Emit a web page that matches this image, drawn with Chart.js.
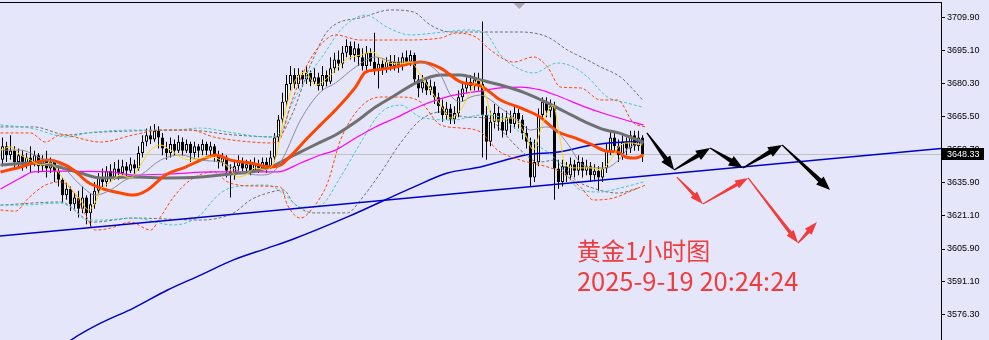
<!DOCTYPE html>
<html lang="zh">
<head>
<meta charset="UTF-8">
<title>黄金1小时图</title>
<style>
  html, body { margin: 0; padding: 0; background: #e6e6fa; }
  #wrap { width: 989px; height: 340px; }
  canvas { display: block; background: #e6e6fa; }
</style>
</head>
<body>
<div id="wrap"><canvas id="myChart" width="989" height="340"></canvas></div>

<script src="https://cdn.jsdelivr.net/npm/chart.js"></script>
<script>
// candles, one per hour (index 0..160)
const opens = [
  3646,3652,3648,3650,3645,3648,3644,3647,3645,3648,
  3643,3646,3642,3645,3641,3637,3630,3633,3626,3629,
  3624,3629,3622,3626,3632,3638,3636,3641,3638,3642,
  3640,3643,3641,3644,3642,3649,3654,3657,3655,3659,
  3656,3651,3649,3653,3650,3654,3650,3653,3649,3652,
  3650,3653,3650,3652,3648,3645,3647,3641,3639,3643,
  3645,3642,3644,3641,3644,3642,3645,3643,3647,3656,
  3664,3672,3680,3684,3680,3684,3682,3685,3681,3683,
  3679,3684,3681,3687,3691,3689,3694,3697,3693,3696,
  3692,3688,3694,3690,3686,3689,3687,3690,3688,3690,
  3688,3692,3690,3693,3682,3678,3681,3677,3679,3674,
  3670,3666,3669,3664,3667,3674,3678,3681,3679,3682,
  3680,3666,3654,3663,3667,3663,3659,3665,3662,3667,
  3664,3658,3654,3638,3645,3666,3672,3668,3670,3642,
  3636,3643,3639,3644,3641,3645,3641,3643,3639,3641,
  3638,3642,3650,3656,3652,3648,3654,3651,3657,3652,
  3656
];
const highs = [
  3656,3654,3657,3652,3651,3650,3649,3652,3650,3649,
  3648,3650,3647,3646,3643,3638,3636,3634,3631,3632,
  3634,3630,3631,3636,3640,3642,3643,3644,3645,3646,
  3646,3645,3647,3646,3652,3657,3660,3661,3662,3661,
  3658,3654,3656,3655,3657,3656,3655,3654,3654,3653,
  3655,3654,3654,3653,3650,3649,3648,3644,3646,3648,
  3647,3646,3646,3647,3646,3647,3647,3650,3658,3666,
  3676,3684,3688,3687,3687,3686,3688,3686,3687,3685,
  3688,3686,3692,3694,3695,3697,3700,3699,3699,3698,
  3696,3697,3696,3703,3692,3691,3692,3693,3693,3692,
  3694,3695,3695,3694,3684,3684,3683,3682,3681,3676,
  3673,3672,3671,3670,3677,3680,3683,3684,3685,3685,
  3708,3670,3668,3671,3670,3667,3668,3668,3670,3669,
  3666,3661,3656,3655,3669,3674,3674,3673,3672,3646,
  3646,3645,3647,3646,3648,3647,3646,3645,3644,3643,
  3645,3653,3659,3659,3655,3657,3656,3659,3659,3659,
  3657
];
const lows = [
  3643,3645,3646,3642,3643,3641,3642,3640,3643,3640,
  3641,3638,3640,3636,3634,3627,3628,3623,3624,3620,
  3622,3617,3616,3624,3630,3633,3634,3636,3637,3637,
  3638,3638,3640,3639,3641,3647,3652,3653,3654,3651,
  3648,3646,3647,3648,3649,3648,3649,3645,3647,3647,
  3648,3648,3647,3645,3642,3643,3638,3629,3637,3641,
  3640,3640,3639,3640,3640,3641,3640,3642,3645,3654,
  3662,3670,3677,3678,3678,3679,3680,3679,3680,3677,
  3677,3679,3680,3685,3686,3687,3692,3691,3690,3688,
  3686,3686,3688,3684,3678,3684,3685,3686,3686,3685,
  3686,3688,3688,3680,3674,3676,3675,3675,3671,3667,
  3663,3664,3662,3662,3665,3672,3676,3677,3677,3677,
  3647,3646,3652,3660,3659,3656,3657,3658,3660,3660,
  3655,3651,3634,3636,3643,3664,3665,3665,3628,3633,
  3634,3636,3637,3638,3639,3638,3639,3636,3637,3632,
  3636,3640,3648,3649,3645,3646,3648,3649,3650,3650,
  3645
];
const closes = [
  3652,3648,3650,3645,3648,3644,3647,3645,3648,3643,
  3646,3642,3645,3641,3637,3630,3633,3626,3629,3624,
  3629,3622,3626,3632,3638,3636,3641,3638,3642,3640,
  3643,3641,3644,3642,3649,3654,3657,3655,3659,3656,
  3651,3649,3653,3650,3654,3650,3653,3649,3652,3650,
  3653,3650,3652,3648,3645,3647,3641,3639,3643,3645,
  3642,3644,3641,3644,3642,3645,3643,3647,3656,3664,
  3672,3680,3684,3680,3684,3682,3685,3681,3683,3679,
  3684,3681,3687,3691,3689,3694,3697,3693,3696,3692,
  3688,3694,3690,3686,3689,3687,3690,3688,3690,3688,
  3692,3690,3693,3682,3678,3681,3677,3679,3674,3670,
  3666,3669,3664,3667,3674,3678,3681,3679,3682,3680,
  3666,3654,3663,3667,3663,3659,3665,3662,3667,3664,
  3658,3654,3638,3645,3666,3672,3668,3670,3642,3636,
  3643,3639,3644,3641,3645,3641,3643,3639,3641,3638,
  3642,3650,3656,3652,3648,3654,3651,3657,3652,3656,
  3648.33
];
const lastPrice = 3648.33;

// right axis labels
const yTicks = [3709.90, 3695.10, 3680.30, 3665.50, 3650.70, 3635.90, 3621.10, 3605.90, 3591.10, 3576.30];

// moving averages, [candle index, price]
const maFast = [[-0.5,3650.3],[2,3651.7],[4.5,3648.1],[7,3645.8],[9.5,3643.6],[12,3644.5],[14.5,3639.1],[17,3633.3],[19.5,3627.9],[21.5,3623.4],[23.25,3627.0],[24.5,3632.4],[27,3636.0],[29.5,3639.1],[32,3637.8],[34.5,3643.6],[37,3650.3],[39.5,3652.6],[42,3650.3],[44.5,3647.2],[47,3645.8],[49.5,3646.7],[52,3647.2],[54.5,3645.8],[57,3641.4],[58.75,3638.2],[60.75,3639.1],[63.25,3642.3],[65.75,3641.4],[68.25,3646.7],[70.75,3668.3],[73.25,3681.8],[75.75,3685.3],[78.25,3679.5],[82,3684.0],[85.75,3690.7],[89.5,3693.0],[92.5,3694.3],[95.75,3689.8],[99.5,3689.0],[102,3689.8],[104.5,3684.0],[107,3677.3],[109.5,3670.5],[112,3664.7],[114.5,3668.3],[116.5,3674.6],[119,3681.8],[120.75,3675.0],[122.75,3663.8],[124.5,3663.8],[126.5,3664.7],[128.25,3663.8],[130.75,3657.1],[132.75,3650.3],[134.5,3659.3],[136.5,3668.3],[137.75,3670.5],[139,3659.3],[140.75,3643.6],[143.25,3642.3],[147,3642.3],[149.5,3641.4],[152,3645.8],[154.5,3652.6],[157,3653.5],[160,3652.6]];
const maThin = [[-0.5,3650.3],[4.5,3650.3],[9.5,3646.7],[14.5,3643.6],[19.5,3634.6],[23.25,3630.1],[27,3632.4],[30.75,3636.9],[34.5,3639.1],[39.5,3645.8],[44.5,3648.1],[49.5,3645.8],[54.5,3644.9],[59.5,3640.5],[64.5,3639.1],[68.25,3641.4],[70.25,3647.2],[74.5,3663.8],[79.5,3676.4],[83.25,3680.4],[88.25,3687.6],[93.25,3692.1],[98.25,3689.8],[103.25,3689.8],[109.5,3684.0],[112,3675.0],[114.5,3671.9],[117,3674.1],[119.5,3675.0],[122,3672.8],[124.5,3669.2],[127,3666.0],[129.5,3662.5],[132,3659.3],[135.75,3660.7],[138.25,3659.3],[141.5,3652.6],[144.5,3644.5],[147.5,3642.3],[150.75,3642.3],[154,3645.8],[156.5,3651.2],[160.25,3653.5]];
const maOrange = [[-0.5,3640.5],[4.5,3642.7],[7.75,3644.5],[11.25,3645.8],[14.5,3644.5],[17.75,3641.4],[21.25,3636.0],[24.5,3633.3],[29.5,3631.0],[32.75,3630.1],[36.25,3632.4],[40.75,3639.1],[45.75,3642.7],[50.75,3646.7],[53.25,3648.1],[57,3645.8],[62,3644.5],[67,3642.7],[69.5,3643.6],[72.75,3649.0],[76.25,3655.7],[79.5,3661.6],[83.25,3668.3],[88.25,3678.6],[90.75,3685.3],[93.25,3686.2],[98.25,3687.6],[104.5,3689.8],[109.5,3687.1],[114.5,3680.9],[119.5,3679.1],[124.5,3672.8],[129.5,3669.2],[134,3665.6],[139,3658.4],[143.25,3655.7],[147.5,3652.6],[150.75,3649.9],[154,3649.4],[155.75,3647.2],[158.25,3646.7],[160.25,3648.1]];
const maGray = [[-0.5,3643.6],[7,3644.5],[12,3643.6],[19.5,3640.0],[24.5,3637.8],[32.75,3638.2],[41.25,3637.8],[49.5,3638.2],[57,3639.6],[62,3640.5],[67,3642.7],[72,3647.2],[77,3651.7],[79.5,3653.9],[83.25,3657.1],[88.25,3662.9],[93.25,3669.6],[98.25,3675.0],[103.25,3680.4],[109.5,3684.0],[114.5,3684.0],[119.5,3681.8],[124.5,3679.5],[130.75,3675.9],[135.75,3671.9],[140.75,3667.4],[145.75,3662.9],[150.75,3659.3],[154,3658.0],[157.5,3655.7],[160.25,3653.9]];
const maMagenta = [[-0.5,3632.8],[4.5,3637.8],[7.75,3640.5],[14.5,3640.9],[27,3640.5],[32.75,3639.1],[42,3639.6],[52.75,3640.5],[60.25,3640.5],[68.75,3640.5],[74.5,3644.5],[79.5,3648.1],[83.25,3650.3],[88.25,3655.7],[93.25,3660.7],[98.25,3664.7],[104.5,3670.1],[112,3674.6],[119.5,3676.8],[124.5,3678.2],[129.5,3678.6],[134.5,3677.3],[138.25,3675.0],[145.75,3669.6],[150.75,3666.5],[155.75,3663.8],[160.25,3661.6]];
const maBlue = [[12,3558.3],[17.5,3565.5],[24.5,3572.6],[32.75,3579.4],[41.25,3587.5],[49.5,3594.2],[57.75,3601.0],[66.25,3606.3],[72.75,3610.4],[86.25,3620.3],[102.75,3633.7],[111.25,3640.0],[119.5,3642.7],[130.75,3648.1],[139,3649.4],[147.5,3652.6],[155.75,3653.9],[160.25,3654.0]];

// bollinger bands
const bbOrangeUp = [[-0.5,3658.0],[7,3658.0],[10.75,3653.9],[14.5,3657.1],[24.5,3653.9],[32.75,3657.1],[39.5,3659.3],[47,3659.3],[52.75,3656.2],[59.5,3654.4],[67,3653.5],[69.5,3655.7],[72,3670.5],[75.75,3687.1],[79.5,3697.5],[83.25,3702.0],[89.5,3699.7],[99.5,3699.7],[109.5,3700.6],[113.25,3702.8],[118.25,3701.1],[122,3695.2],[127.75,3689.8],[132.75,3692.1],[136.25,3687.6],[139.5,3678.6],[144.5,3678.2],[149.5,3672.8],[153.75,3672.8],[157.75,3662.5],[160.75,3660.7]];
const bbOrangeLow = [[-0.5,3623.4],[3.25,3622.9],[6.5,3628.8],[10.75,3634.6],[14.5,3636.0],[18.25,3630.1],[20.75,3621.2],[23.25,3614.4],[27,3615.3],[32,3618.0],[37,3614.4],[39.5,3620.3],[42.75,3629.2],[47,3636.9],[52.75,3640.5],[56.25,3636.0],[62,3634.2],[69.5,3633.7],[71.25,3625.6],[74.5,3619.8],[77.75,3624.7],[81.25,3635.5],[84.5,3654.8],[89.5,3669.6],[94.5,3674.1],[99.5,3674.1],[104.5,3671.9],[109.5,3661.6],[114.5,3660.2],[119.5,3658.4],[123.75,3650.3],[129.5,3645.8],[134.5,3643.6],[139.5,3640.5],[144.5,3633.7],[147.75,3627.9],[152.75,3628.8],[157.75,3632.4],[160.75,3634.6]];
const bbCyanUp = [[-0.5,3661.6],[7,3660.2],[16.25,3656.2],[21.25,3658.0],[32.75,3659.3],[42.75,3659.3],[49.5,3660.2],[57.75,3658.0],[66.25,3656.2],[69.5,3658.0],[72,3669.6],[76.25,3683.1],[80.25,3693.0],[84.5,3704.2],[90.75,3710.9],[96.5,3705.1],[102,3702.0],[110.25,3703.3],[116.25,3704.2],[120.75,3702.8],[124.5,3693.0],[128.25,3687.6],[132.75,3684.9],[138.75,3689.4],[142.75,3687.6],[146.25,3683.1],[151.25,3674.1],[156.25,3671.4],[160,3669.6]];
const bbCyanLow = [[-0.5,3625.6],[4.5,3625.6],[14.5,3626.5],[17,3624.7],[21.25,3618.9],[24.5,3618.9],[32.75,3619.8],[42.75,3616.7],[49.5,3621.2],[52,3626.5],[54.5,3631.0],[57.75,3633.7],[66.25,3634.6],[71.25,3629.2],[74.5,3624.7],[79.5,3625.6],[84.5,3638.2],[89.5,3653.5],[94.5,3667.0],[99.5,3670.5],[104.5,3665.1],[112.75,3663.8],[119.5,3666.0],[124.5,3665.1],[127.75,3660.7],[132.75,3653.5],[137.75,3647.2],[142,3636.9],[144.5,3632.4],[149.5,3631.5],[154.5,3633.3],[160.25,3636.0]];
const bbGrayUp = [[-0.5,3660.7],[7.75,3660.7],[16.25,3657.1],[21.25,3658.0],[32.75,3658.9],[46.25,3659.3],[57.75,3657.1],[68.75,3656.2],[72,3664.7],[77,3688.5],[81.5,3704.2],[90.25,3710.0],[97,3713.2],[102.75,3712.3],[107,3706.4],[112,3703.3],[119.5,3703.3],[129.5,3703.3],[136.25,3701.1],[141.25,3695.2],[146.25,3690.7],[149.5,3687.6],[154.5,3683.1],[157.75,3677.3],[160,3672.8]];
const bbGrayLow = [[-0.5,3625.6],[14.5,3627.0],[22.75,3618.0],[32.75,3619.8],[49.5,3618.9],[57.75,3622.1],[62,3627.9],[66.25,3631.0],[70.25,3632.4],[72.75,3626.6],[77.75,3622.1],[86.25,3622.1],[89.5,3627.9],[94.5,3640.0],[99.5,3653.5],[104.5,3663.8],[109.5,3667.4],[116.25,3665.1],[121.25,3664.7],[125.75,3657.1],[129.5,3650.3],[134,3644.9],[138.25,3645.8],[143.25,3636.9],[147.5,3633.3],[154,3631.0],[159,3633.3]];

// support trend line and current price line
const trendLine = [[-0.625,3611.7],[234.625,3651.0]];
const priceLine = [[-0.625,lastPrice],[234.625,lastPrice]];

// forecast arrows (index, price)
const blackPath = [[161.1,3658.0],[167.9,3641.4],[176.9,3651.2],[185.1,3642.3],[194.9,3652.6],[206.9,3632.4]];
const redPath = [[168.6,3638.2],[175.1,3626.1],[186.4,3637.8],[198.9,3608.6],[203.6,3618.0]];
const shiftIdx = 129.2;

const titleText = '黄金1小时图';
const timeText = '2025-9-19 20:24:24';
const textIdx = 143.6;
const textPrices = [3605.0, 3591.5];

function lineSet(pts, color, width, dash, order) {
    return {
        type: 'line',
        data: pts.map(p => ({ x: p[0], y: p[1] })),
        borderColor: color,
        borderWidth: width,
        borderDash: dash || [],
        pointRadius: 0,
        cubicInterpolationMode: 'monotone',
        fill: false,
        order: order
    };
}

function drawArrow(ctx, x1, y1, x2, y2, w0, w1, headLen, headW) {
    const dx = x2 - x1, dy = y2 - y1;
    const len = Math.hypot(dx, dy);
    const ux = dx / len, uy = dy / len;
    const nx = -uy, ny = ux;
    const bx = x2 - ux * headLen, by = y2 - uy * headLen;
    ctx.beginPath();
    ctx.moveTo(x1 + nx * w0 / 2, y1 + ny * w0 / 2);
    ctx.lineTo(bx + nx * w1 / 2, by + ny * w1 / 2);
    ctx.lineTo(bx + nx * headW / 2, by + ny * headW / 2);
    ctx.lineTo(x2, y2);
    ctx.lineTo(bx - nx * headW / 2, by - ny * headW / 2);
    ctx.lineTo(bx - nx * w1 / 2, by - ny * w1 / 2);
    ctx.lineTo(x1 - nx * w0 / 2, y1 - ny * w0 / 2);
    ctx.closePath();
    ctx.fill();
}

const overlay = {
    id: 'overlay',
    afterDatasetsDraw(chart) {
        const ctx = chart.ctx;
        const xs = chart.scales.x, ys = chart.scales.y;
        const area = chart.chartArea;
        ctx.save();

        // frame top line
        ctx.strokeStyle = '#000';
        ctx.lineWidth = 1;
        ctx.beginPath();
        ctx.moveTo(0, area.top - 0.5);
        ctx.lineTo(area.right + 1, area.top - 0.5);
        ctx.stroke();

        // shift marker
        const sx = xs.getPixelForValue(shiftIdx);
        ctx.fillStyle = '#a9a9b4';
        ctx.beginPath();
        ctx.moveTo(sx - 6, area.top);
        ctx.lineTo(sx + 6, area.top);
        ctx.lineTo(sx, area.top + 6);
        ctx.closePath();
        ctx.fill();

        // arrows
        ctx.fillStyle = '#000';
        for (let i = 1; i < blackPath.length; i++) {
            drawArrow(ctx,
                xs.getPixelForValue(blackPath[i - 1][0]), ys.getPixelForValue(blackPath[i - 1][1]),
                xs.getPixelForValue(blackPath[i][0]), ys.getPixelForValue(blackPath[i][1]),
                1.2, 4.5, 14, 11);
        }
        ctx.fillStyle = '#f23c3c';
        for (let i = 1; i < redPath.length; i++) {
            drawArrow(ctx,
                xs.getPixelForValue(redPath[i - 1][0]), ys.getPixelForValue(redPath[i - 1][1]),
                xs.getPixelForValue(redPath[i][0]), ys.getPixelForValue(redPath[i][1]),
                1.2, 3.5, 13, 9);
        }

        // annotation text
        ctx.fillStyle = '#f03c3c';
        ctx.textBaseline = 'middle';
        ctx.textAlign = 'left';
        const tx = xs.getPixelForValue(textIdx);
        ctx.font = '24px "Noto Sans CJK SC"';
        ctx.fillText(titleText, tx, ys.getPixelForValue(textPrices[0]));
        ctx.font = '25.5px "Noto Sans CJK SC"';
        ctx.fillText(timeText, tx, ys.getPixelForValue(textPrices[1]));

        // current price box
        const py = ys.getPixelForValue(lastPrice);
        ctx.fillStyle = '#000';
        ctx.fillRect(area.right + 1, Math.round(py) - 6, 42, 12);
        ctx.fillStyle = '#fff';
        ctx.font = '9px "Liberation Sans"';
        ctx.fillText(lastPrice.toFixed(2), area.right + 6, py);
        ctx.restore();
    }
};

const datasets = [
    lineSet(priceLine, '#c0c0c0', 1, [], 40),
    {
        type: 'bar',
        data: highs.map((h, i) => ({ x: i, y: [lows[i], h] })),
        backgroundColor: '#000',
        barThickness: 1,
        grouped: false,
        inflateAmount: 0,
        borderWidth: 0,
        order: 30
    },
    {
        type: 'bar',
        data: opens.map((o, i) => ({ x: i, y: [o, closes[i]] })),
        backgroundColor: c => closes[c.dataIndex] >= opens[c.dataIndex] ? '#ffffff' : '#000000',
        borderColor: '#000',
        borderWidth: 1,
        borderSkipped: false,
        barThickness: 3,
        grouped: false,
        inflateAmount: 0,
        order: 29
    },
    lineSet(maBlue, '#0000cd', 1.5, [], 14),
    lineSet(bbGrayUp, '#6e6e6e', 1, [3, 2], 13),
    lineSet(bbGrayLow, '#6e6e6e', 1, [3, 2], 13),
    lineSet(bbCyanUp, '#40c8c8', 1, [3, 2], 12),
    lineSet(bbCyanLow, '#40c8c8', 1, [3, 2], 12),
    lineSet(bbOrangeUp, '#ff4500', 1, [3, 2], 11),
    lineSet(bbOrangeLow, '#ff4500', 1, [3, 2], 11),
    lineSet(maMagenta, '#ff00ff', 1.2, [], 9),
    lineSet(maGray, '#707070', 3, [], 8),
    lineSet(maOrange, '#ff4500', 3, [], 7),
    lineSet(maThin, '#8a8a99', 1, [], 6),
    lineSet(maFast, '#ffd700', 1, [], 5),
    lineSet(trendLine, '#0000cd', 1.5, [], 4)
];

new Chart(document.getElementById('myChart'), {
    type: 'bar',
    data: { datasets: datasets },
    options: {
        responsive: false,
        animation: false,
        events: [],
        layout: { padding: { top: 3, left: 0, right: 0, bottom: 0 } },
        scales: {
            x: {
                type: 'linear',
                display: false,
                offset: false,
                min: -0.625,
                max: 234.625
            },
            y: {
                type: 'linear',
                position: 'right',
                min: 3565.06,
                max: 3716.32,
                afterBuildTicks: s => { s.ticks = yTicks.map(v => ({ value: v })); },
                afterFit: s => { s.width = 48; s.paddingTop = 0; s.paddingBottom = 0; },
                border: { display: true, color: '#000', width: 1 },
                grid: { drawOnChartArea: false, drawTicks: true, tickLength: 4, color: '#000' },
                ticks: {
                    color: '#000',
                    padding: 2,
                    font: { family: 'Liberation Sans', size: 9 },
                    callback: v => Number(v).toFixed(2)
                }
            }
        },
        plugins: {
            legend: { display: false },
            tooltip: { enabled: false }
        }
    },
    plugins: [overlay]
});
</script>
</body>
</html>
